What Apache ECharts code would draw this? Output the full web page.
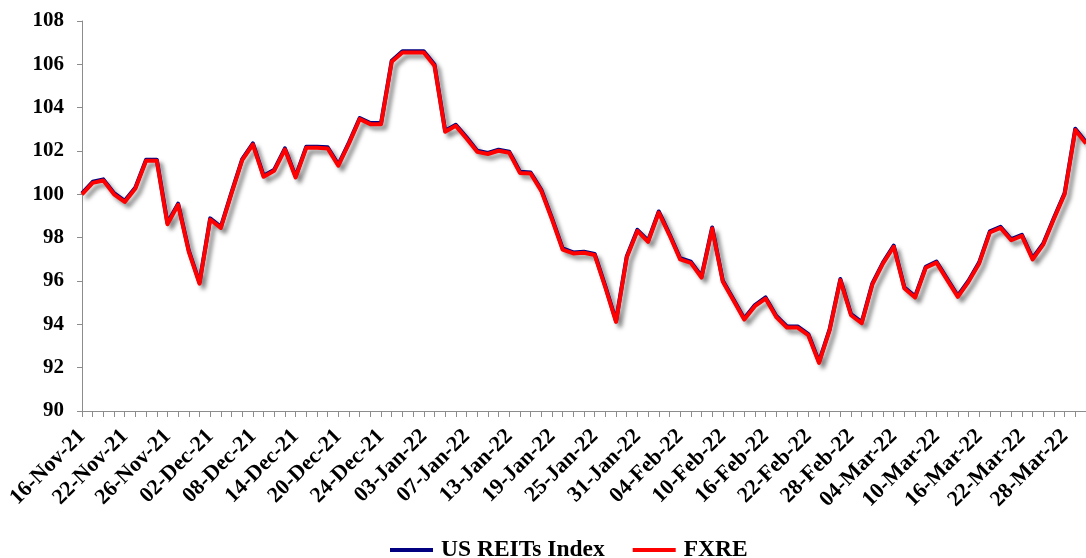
<!DOCTYPE html>
<html>
<head>
<meta charset="utf-8">
<title>US REITs Index vs FXRE</title>
<script src="https://cdn.jsdelivr.net/npm/echarts@6/dist/echarts.min.js"></script>
<style>
  html, body { margin: 0; padding: 0; background: #ffffff; overflow: hidden; }
  #chart { width: 1086px; height: 558px; }
</style>
</head>
<body>
<div id="chart"></div>
<script>
// Trading days, 16-Nov-21 to 30-Mar-22
const dates = [
  '16-Nov-21','17-Nov-21','18-Nov-21','19-Nov-21','22-Nov-21','23-Nov-21','24-Nov-21','25-Nov-21',
  '26-Nov-21','29-Nov-21','30-Nov-21','01-Dec-21','02-Dec-21','03-Dec-21','06-Dec-21','07-Dec-21',
  '08-Dec-21','09-Dec-21','10-Dec-21','13-Dec-21','14-Dec-21','15-Dec-21','16-Dec-21','17-Dec-21',
  '20-Dec-21','21-Dec-21','22-Dec-21','23-Dec-21','24-Dec-21','28-Dec-21','29-Dec-21','30-Dec-21',
  '03-Jan-22','04-Jan-22','05-Jan-22','06-Jan-22','07-Jan-22','10-Jan-22','11-Jan-22','12-Jan-22',
  '13-Jan-22','14-Jan-22','17-Jan-22','18-Jan-22','19-Jan-22','20-Jan-22','21-Jan-22','24-Jan-22',
  '25-Jan-22','26-Jan-22','27-Jan-22','28-Jan-22','31-Jan-22','01-Feb-22','02-Feb-22','03-Feb-22',
  '04-Feb-22','07-Feb-22','08-Feb-22','09-Feb-22','10-Feb-22','11-Feb-22','14-Feb-22','15-Feb-22',
  '16-Feb-22','17-Feb-22','18-Feb-22','21-Feb-22','22-Feb-22','23-Feb-22','24-Feb-22','25-Feb-22',
  '28-Feb-22','01-Mar-22','02-Mar-22','03-Mar-22','04-Mar-22','07-Mar-22','08-Mar-22','09-Mar-22',
  '10-Mar-22','11-Mar-22','14-Mar-22','15-Mar-22','16-Mar-22','17-Mar-22','18-Mar-22','21-Mar-22',
  '22-Mar-22','23-Mar-22','24-Mar-22','25-Mar-22','28-Mar-22','29-Mar-22','30-Mar-22'
];

// US REITs Index, rebased to 100
const usReits = [
  100.05, 100.58, 100.69, 100.05, 99.70, 100.32, 101.60, 101.60,
  98.68, 99.57, 97.40, 95.93, 98.89, 98.50, 100.09, 101.63,
  102.35, 100.86, 101.14, 102.12, 100.83, 102.20, 102.20, 102.17,
  101.37, 102.40, 103.52, 103.29, 103.29, 106.17, 106.60, 106.60,
  106.60, 105.99, 102.94, 103.21, 102.63, 102.01, 101.91, 102.06,
  101.97, 101.04, 101.01, 100.21, 98.90, 97.50, 97.32, 97.35,
  97.25, 95.75, 94.16, 97.13, 98.36, 97.86, 99.21, 98.17,
  97.05, 96.89, 96.21, 98.47, 96.01, 95.15, 94.27, 94.89,
  95.24, 94.39, 93.90, 93.90, 93.55, 92.27, 93.78, 96.09,
  94.47, 94.10, 95.89, 96.86, 97.63, 95.70, 95.29, 96.66,
  96.90, 96.10, 95.32, 96.01, 96.86, 98.29, 98.50, 97.93,
  98.13, 97.05, 97.73, 98.92, 100.06, 103.03, 102.41
];

// FXRE, rebased to 100
const fxre = [
  100.00, 100.53, 100.64, 100.00, 99.65, 100.27, 101.55, 101.55,
  98.62, 99.52, 97.35, 95.88, 98.84, 98.45, 100.04, 101.58,
  102.30, 100.81, 101.09, 102.07, 100.78, 102.15, 102.15, 102.12,
  101.32, 102.35, 103.47, 103.24, 103.24, 106.12, 106.55, 106.55,
  106.55, 105.94, 102.89, 103.16, 102.58, 101.96, 101.86, 102.01,
  101.92, 100.99, 100.96, 100.16, 98.85, 97.45, 97.27, 97.30,
  97.20, 95.70, 94.11, 97.08, 98.31, 97.81, 99.16, 98.12,
  97.00, 96.84, 96.16, 98.42, 95.96, 95.10, 94.22, 94.84,
  95.19, 94.34, 93.85, 93.85, 93.50, 92.22, 93.73, 96.04,
  94.42, 94.05, 95.84, 96.81, 97.58, 95.65, 95.24, 96.61,
  96.85, 96.05, 95.27, 95.96, 96.81, 98.24, 98.45, 97.88,
  98.08, 97.00, 97.68, 98.87, 100.01, 102.97, 102.35
];

const yTicks = { min: 90, max: 108, step: 2 };

const FONT = 'Liberation Serif';
const chart = echarts.init(document.getElementById('chart'), null, { renderer: 'canvas' });

chart.setOption({
  backgroundColor: '#ffffff',
  animation: false,
  grid: { left: 82, right: -2, top: 21, bottom: 147, containLabel: false },
  legend: {
    data: ['US REITs Index', 'FXRE'],
    left: 385,
    top: 533,
    icon: 'rect',
    itemWidth: 43,
    itemHeight: 4,
    itemGap: 28,
    textStyle: { fontFamily: FONT, fontWeight: 'bold', fontSize: 23.5, color: '#000', padding: [0, 0, 0, 3] }
  },
  xAxis: {
    type: 'category',
    data: dates,
    boundaryGap: false,
    axisLine: { show: true, lineStyle: { color: '#8c8c8c', width: 1 } },
    axisTick: { show: true, interval: 0, length: 6, lineStyle: { color: '#8c8c8c' } },
    axisLabel: {
      interval: 3,
      rotate: 45,
      margin: 22,
      fontFamily: FONT,
      fontWeight: 'bold',
      fontSize: 22,
      color: '#000'
    },
    splitLine: { show: false }
  },
  yAxis: {
    type: 'value',
    min: yTicks.min,
    max: yTicks.max,
    interval: yTicks.step,
    axisLine: { show: true, lineStyle: { color: '#8c8c8c', width: 1 } },
    axisTick: { show: true, length: 5, lineStyle: { color: '#8c8c8c' } },
    axisLabel: {
      margin: 18,
      fontFamily: FONT,
      fontWeight: 'bold',
      fontSize: 21,
      color: '#000'
    },
    splitLine: { show: false }
  },
  series: [
    {
      name: 'US REITs Index',
      type: 'line',
      data: usReits,
      symbol: 'none',
      itemStyle: { color: '#000080' },
      lineStyle: {
        color: '#000080',
        width: 4,
        join: 'round',
        shadowColor: 'rgba(0,0,0,0.5)',
        shadowBlur: 4,
        shadowOffsetX: 4,
        shadowOffsetY: 5
      },
      z: 2
    },
    {
      name: 'FXRE',
      type: 'line',
      data: fxre,
      symbol: 'none',
      itemStyle: { color: '#ff0000' },
      lineStyle: { color: '#ff0000', width: 4, join: 'round' },
      z: 3
    }
  ]
});
</script>
</body>
</html>
